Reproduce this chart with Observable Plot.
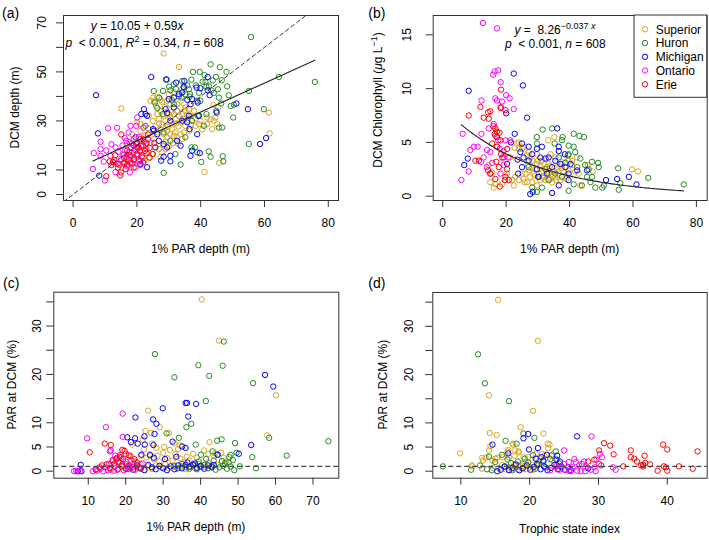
<!DOCTYPE html>
<html><head><meta charset="utf-8">
<script src="https://cdn.jsdelivr.net/npm/d3@7"></script>
<script src="https://cdn.jsdelivr.net/npm/@observablehq/plot@0.6"></script>
<style>
body{margin:0;background:#fff}
#root{position:relative;width:709px;height:540px;overflow:hidden;background:#fff}
.panel{position:absolute}
</style>
</head><body><div id="root"></div>
<script>
const lakes = ["Superior","Huron","Michigan","Ontario","Erie"];
const lakeColors = ["#DAA520","#228B22","#0000FF","#FF00FF","#FF0000"];

// ---------- Panel (a): 1% PAR depth (m) vs DCM depth (m)
const aSuperior = [[28.4,57.5],[33.2,52.0],[15.1,35.1],[61.4,33.4],[61.6,24.9],[45.8,12.9],[41.2,9.2],[27.4,38.6],[27.9,37.8],[25.3,38.2],[26.0,36.1],[29.5,38.2],[30.5,36.8],[26.4,32.8],[26.9,30.7],[27.4,34.1],[28.4,32.1],[29.0,30.1],[30.0,32.8],[30.5,31.4],[31.1,28.7],[31.6,32.8],[32.1,30.7],[32.6,34.1],[33.2,32.1],[33.7,35.5],[34.2,32.8],[34.7,30.7],[35.2,34.1],[36.3,34.8],[36.8,32.1],[37.9,34.1],[38.4,28.0],[39.5,28.7],[39.9,30.1],[42.0,31.4],[43.1,30.7],[44.1,30.1],[44.6,31.4],[45.2,28.7],[43.6,26.7],[42.0,28.7],[27.4,26.7],[28.4,24.6],[29.5,23.3],[30.5,24.6],[31.6,24.0],[32.1,25.3],[32.6,23.3],[33.7,24.6],[34.2,22.6],[34.7,25.3],[35.2,28.0],[29.5,25.9],[26.4,25.3],[25.3,22.6],[26.9,18.5],[27.9,17.2],[29.0,18.5],[24.8,16.5],[23.7,15.2],[22.7,20.6],[24.3,21.3],[24.3,38.2],[25.1,39.5],[26.4,39.8],[30.0,40.9],[33.7,38.2],[32.6,36.8],[31.6,41.8],[34.2,42.9],[35.2,35.5],[21.1,28.7],[20.1,29.4],[18.5,24.6],[16.9,20.6],[15.9,16.5],[16.4,13.1],[17.4,14.5],[19.0,15.2],[22.2,13.8],[27.4,15.2],[21.1,26.0],[23.7,32.1],[28.0,28.5],[29.8,27.5],[31.0,26.8],[33.0,27.8],[34.0,29.5],[36.0,30.5],[37.0,28.3],[36.5,26.0],[30.8,33.6],[28.8,35.6],[27.0,29.0],[25.8,27.8],[32.3,29.0],[35.7,32.6],[38.3,31.0],[29.0,21.5],[31.3,21.0],[33.0,20.6],[28.3,20.0],[30.0,19.6],[24.0,25.0],[22.5,24.0],[23.5,27.0],[25.0,30.0],[40.5,26.5],[45.5,35.5],[44.0,36.5]];
const aHuron = [[55.8,64.2],[75.8,45.9],[64.5,47.9],[55.1,42.2],[59.8,34.8],[55.1,20.6],[50.2,31.4],[49.4,36.1],[50.4,36.6],[48.8,40.5],[48.3,44.1],[48.1,50.0],[46.0,51.9],[46.6,46.6],[43.1,53.1],[39.7,50.0],[37.6,50.0],[41.2,48.7],[41.5,45.9],[42.6,44.1],[43.4,42.5],[44.1,41.4],[45.4,42.9],[45.7,39.5],[46.4,37.1],[46.7,27.3],[45.7,27.3],[46.9,15.6],[47.1,13.5],[43.1,15.4],[42.5,17.6],[40.2,13.3],[38.2,19.2],[37.1,19.2],[33.7,12.2],[28.4,8.8],[38.9,38.2],[39.9,38.2],[37.1,46.8],[35.8,44.5],[36.3,42.9],[34.7,43.6],[34.2,46.3],[31.6,44.9],[29.3,46.7],[30.5,42.5],[28.2,42.2],[25.3,42.2],[25.6,37.5],[26.4,35.2],[31.6,36.8],[34.0,39.5],[35.2,40.9],[36.5,39.9],[30.5,21.9],[32.1,16.5],[28.4,25.3],[35.2,23.3],[21.1,13.8],[22.7,28.0],[28.1,32.8],[39.1,32.1],[37.3,30.1],[41.0,28.0],[41.8,32.8],[44.9,34.1],[38.9,17.2],[38.5,44.5],[39.5,41.5],[40.6,46.0],[41.8,44.0],[43.8,46.5],[44.8,48.0],[36.6,41.0],[33.2,40.0],[32.2,43.0],[30.1,44.0],[27.0,39.5],[31.0,38.5]];
const aMichigan = [[7.2,40.5],[7.8,24.9],[8.2,7.7],[24.5,47.9],[29.2,47.0],[34.9,46.3],[32.3,45.6],[34.7,43.9],[38.7,43.6],[39.9,43.3],[42.2,47.9],[42.8,40.5],[42.2,42.5],[37.3,38.9],[39.1,37.5],[35.8,38.6],[36.8,36.8],[34.2,41.6],[33.2,40.9],[31.6,39.5],[30.0,38.9],[29.0,34.8],[29.5,33.2],[31.6,35.5],[22.2,34.8],[22.7,32.8],[23.2,32.1],[21.4,32.8],[25.1,26.7],[25.3,26.0],[26.4,24.6],[26.9,21.9],[28.4,20.6],[29.5,19.2],[30.5,15.8],[27.6,13.8],[28.4,15.4],[23.2,11.1],[21.1,12.5],[19.6,23.3],[20.1,19.2],[25.8,19.2],[30.5,13.5],[36.8,15.8],[37.3,17.9],[39.7,16.9],[38.9,24.6],[36.5,26.7],[35.8,29.4],[36.3,32.1],[39.5,32.1],[54.8,34.8],[51.2,37.1],[58.6,20.6],[60.5,23.0],[45.0,33.4],[32.6,21.9],[33.7,19.9],[34.2,30.1],[30.5,30.1]];
const aOntario = [[6.2,10.4],[6.5,16.9],[8.6,21.5],[8.6,18.5],[11.0,27.0],[13.8,27.2],[17.4,25.3],[17.7,21.3],[16.7,21.9],[20.1,31.4],[19.8,28.0],[22.1,27.3],[18.0,28.0],[13.3,19.2],[11.7,15.8],[12.7,13.1],[9.6,13.4],[8.6,15.8],[13.3,9.1],[10.0,5.7],[15.0,14.5],[15.8,16.0],[16.3,18.0],[16.8,15.2],[17.2,13.8],[17.6,17.2],[18.0,15.6],[18.2,19.0],[18.6,12.6],[18.9,16.8],[19.2,14.5],[19.5,18.2],[19.8,20.5],[20.2,16.0],[20.5,13.5],[20.9,17.5],[21.3,19.8],[21.8,15.0],[22.2,21.5],[17.0,11.5],[16.0,12.5],[14.5,12.0],[15.5,20.0],[19.0,22.5],[20.7,23.5],[23.0,18.5],[17.8,9.0],[19.6,11.0],[16.2,23.0],[14.2,17.5],[18.4,20.8],[21.0,12.0],[23.5,22.5],[12.0,20.5],[10.4,18.0]];
const aErie = [[10.4,7.4],[15.1,24.5],[16.5,10.4],[13.0,14.0],[14.0,12.5],[12.5,13.3],[16.0,15.0],[18.0,13.0],[19.0,11.0],[20.0,16.5],[21.0,18.0],[22.0,20.0],[23.0,21.0],[21.0,22.5],[23.0,17.0],[24.0,15.0],[22.0,13.0],[17.0,12.2],[15.0,9.0],[14.0,11.0],[12.0,12.0],[11.5,13.5],[17.0,18.0],[19.0,20.0],[20.0,21.0],[22.0,22.5],[18.0,16.0],[16.0,13.0],[25.0,16.5],[21.5,15.5],[24.0,19.0],[19.0,14.0],[14.8,7.8],[13.2,16.0],[23.5,24.5],[25.5,21.0],[22.5,17.8],[20.5,19.0]];
const aFit = [10.05, 0.59];          // y = 10.05 + 0.59x
const aXDomain = [-3.0, 83.2];
const aYDomain = [-2.45, 73.0];
const aXTicks = [0,20,40,60,80];
const aYTicks = [0,10,20,30,40,50,60,70];
const aYLabels = [0,10,30,50,70];

// ---------- Panel (b): 1% PAR depth (m) vs DCM chlorophyll
const bSuperior = [[59.7,2.5],[61.6,2.3],[45.7,2.9],[47.3,2.3],[33.3,5.2],[35.2,5.5],[34.0,3.9],[35.5,3.6],[23.4,4.9],[24.0,4.4],[25.0,4.4],[14.5,2.9],[15.6,2.2],[15.0,1.3],[16.1,0.8],[16.6,1.1],[18.7,1.1],[20.3,2.1],[22.9,1.8],[21.9,1.5],[22.4,1.0],[24.0,1.5],[25.0,2.1],[25.5,1.6],[26.6,1.3],[26.1,2.1],[27.1,2.4],[27.6,1.8],[28.2,1.3],[28.7,2.1],[29.2,2.5],[29.7,3.0],[30.3,2.1],[30.8,1.5],[31.3,2.2],[31.9,1.9],[32.4,1.5],[32.9,2.7],[33.4,2.1],[33.9,1.6],[34.5,1.3],[35.0,2.3],[35.5,1.8],[36.1,2.7],[36.6,2.1],[37.1,1.5],[37.6,2.6],[38.7,1.9],[39.7,2.4],[40.8,2.9],[41.8,2.3],[42.9,2.1],[43.4,1.0],[29.7,1.0],[28.2,3.3],[26.6,3.8],[27.1,4.1],[25.5,4.6],[24.0,5.0],[22.7,4.5],[21.3,3.6],[31.3,3.3],[33.4,3.0],[37.6,3.0],[29.7,3.9],[38.2,3.6],[39.7,3.3],[40.8,3.3],[42.4,3.6],[26.8,2.9],[28.0,2.6],[29.0,1.9],[30.6,2.8],[31.6,1.7],[32.8,2.3],[33.8,2.8],[34.8,1.9],[35.8,1.5],[36.8,2.8],[38.0,2.3],[39.0,1.6],[27.6,3.6],[30.0,3.3],[32.0,3.0],[25.8,1.3]];
const bHuron = [[31.5,6.2],[34.5,6.3],[41.3,5.8],[43.1,5.6],[44.5,5.5],[37.8,5.5],[29.7,5.5],[37.6,5.2],[35.3,4.9],[29.7,4.9],[39.7,4.7],[41.3,4.6],[39.7,3.9],[41.8,4.1],[43.4,3.5],[47.1,3.2],[49.0,3.1],[49.2,2.7],[46.0,2.5],[44.9,2.9],[55.3,2.6],[64.8,1.7],[76.0,1.1],[55.5,0.6],[56.0,1.2],[50.3,0.8],[48.1,0.8],[47.1,1.8],[46.6,1.3],[43.9,1.0],[41.3,1.1],[39.7,0.5],[29.7,0.4],[28.2,0.8],[35.5,2.1],[37.6,1.8],[33.4,1.5],[31.3,0.8],[30.3,1.8],[42.4,2.7],[45.5,1.8],[27.1,2.7],[50.8,1.0],[36.6,3.6],[38.7,3.1],[32.4,2.5],[39.5,3.8]];
const bMichigan = [[8.2,9.8],[22.4,11.4],[25.3,10.3],[26.6,7.3],[20.0,7.7],[22.7,5.8],[6.8,2.9],[7.9,3.5],[21.5,5.0],[20.3,3.0],[23.8,2.1],[25.0,4.9],[24.5,4.1],[25.5,3.6],[27.1,4.6],[28.2,3.9],[29.7,4.4],[30.8,3.6],[32.4,3.5],[36.1,6.3],[33.4,3.6],[35.5,3.3],[37.1,3.0],[38.7,2.7],[39.7,2.1],[34.5,2.7],[32.9,2.1],[29.7,2.5],[27.6,0.2],[28.4,0.4],[34.5,0.3],[36.6,1.0],[39.7,1.5],[42.4,2.4],[45.5,2.4],[51.5,1.5],[55.0,1.6],[58.7,1.8],[61.1,1.1],[31.3,4.6],[36.6,4.6],[27.1,3.3],[23.6,3.4],[30.1,1.8],[25.0,2.7],[36.6,4.2],[38.5,3.9],[40.3,3.0]];
const bOntario = [[12.7,16.1],[17.1,15.6],[15.9,11.3],[16.4,11.6],[17.5,11.7],[18.3,10.6],[16.6,9.1],[17.1,8.9],[18.7,8.8],[18.4,8.3],[22.4,8.1],[20.0,9.4],[21.1,9.1],[12.2,8.9],[6.3,5.8],[5.9,1.5],[8.2,2.3],[8.7,4.3],[9.8,4.6],[11.0,4.6],[12.2,5.8],[12.1,3.2],[12.9,3.6],[14.0,4.3],[14.5,6.3],[16.1,6.7],[16.6,5.6],[17.5,5.2],[18.0,4.4],[19.2,4.2],[19.8,5.2],[18.2,2.1],[18.7,3.6],[20.7,3.6],[21.3,5.2],[15.0,4.1],[13.9,2.7],[15.6,3.1],[15.0,2.1],[19.2,2.9]];
const bErie = [[8.2,7.5],[18.4,9.9],[11.9,8.3],[14.3,7.8],[15.0,7.9],[14.5,7.2],[16.0,6.5],[16.6,6.3],[17.1,6.0],[16.4,5.8],[17.9,5.9],[17.1,5.5],[18.2,5.2],[15.6,4.9],[17.1,4.6],[18.4,3.9],[16.9,3.2],[17.7,2.7],[19.2,3.6],[20.3,2.5],[19.8,1.8],[20.8,1.5],[15.0,2.1],[14.3,2.4],[16.6,1.6],[18.0,0.9],[19.6,1.5],[20.3,4.4],[10.3,3.3],[11.4,3.3],[12.9,7.3],[19.8,8.0],[18.2,8.2]];
const bFit = [8.26, -0.037];        // y = 8.26 e^(-0.037x)
const bXDomain = [-3.0, 83.4];
const bYDomain = [-0.4, 16.8];
const bXTicks = [0,20,40,60,80];
const bYTicks = [0,5,10,15];
const bYLabels = [0,5,10,15];

// ---------- Panel (c): 1% PAR depth (m) vs PAR at DCM (%)
const cSuperior = [[40.3,35.5],[44.9,27.0],[60.1,15.7],[26.0,12.5],[29.1,9.1],[25.3,8.3],[26.8,7.9],[42.4,6.0],[57.8,7.4],[21.8,5.5],[27.1,5.7],[40.9,4.3],[43.7,3.1],[46.1,2.8],[24.9,4.5],[31.5,7.9],[24.6,6.5],[24.0,3.2],[25.5,2.8],[26.5,3.5],[27.5,2.5],[28.5,3.2],[29.0,2.0],[30.0,3.8],[31.0,2.7],[31.8,4.4],[32.5,2.2],[33.3,3.5],[34.0,4.6],[34.6,2.6],[35.5,1.8],[36.3,3.0],[37.0,2.2],[38.0,3.6],[39.0,2.8],[28.0,1.2],[29.5,0.8],[30.5,1.5],[31.5,0.6],[32.8,1.2],[33.8,0.5],[35.0,1.0],[36.0,0.4],[26.0,1.0],[27.0,0.5],[25.0,0.3],[24.0,1.5],[22.5,2.0],[23.0,0.8],[37.5,1.0],[38.5,0.6],[39.5,1.5],[41.0,0.9],[42.0,1.8],[44.5,1.3],[45.5,3.8],[46.8,2.0],[34.5,5.3],[33.0,5.8],[28.2,4.8],[30.3,5.0],[42.1,3.6],[43.9,3.7]];
const cHuron = [[27.8,24.2],[39.4,21.9],[45.9,21.8],[46.2,26.8],[33.0,19.4],[42.3,19.7],[54.0,18.2],[41.4,14.5],[36.2,9.1],[37.5,9.8],[30.9,7.8],[58.3,6.9],[74.1,6.2],[34.2,6.9],[38.7,5.5],[44.4,6.3],[45.6,6.6],[49.2,5.8],[53.8,2.9],[63.0,3.2],[54.8,0.6],[49.6,3.8],[48.0,3.4],[43.2,4.1],[45.7,2.1],[44.6,3.4],[40.1,3.4],[36.0,0.8],[37.0,0.5],[38.0,1.2],[39.0,0.4],[40.0,0.9],[41.0,1.3],[42.0,0.6],[43.0,1.0],[44.0,0.3],[45.0,0.8],[46.0,1.1],[47.0,0.5],[48.0,1.0],[49.0,0.2],[35.0,1.5],[34.0,0.6],[33.0,1.0],[46.5,1.6],[47.5,1.8],[48.6,2.3],[50.5,1.0],[43.5,2.2],[41.5,2.5],[39.5,2.0],[47.7,2.9]];
const cMichigan = [[57.2,19.9],[59.4,17.5],[29.9,13.0],[36.0,14.1],[36.4,14.1],[38.8,13.9],[22.6,11.1],[27.3,10.7],[36.7,11.3],[28.2,9.8],[27.7,7.7],[20.4,7.0],[22.5,6.8],[25.0,7.2],[21.4,6.0],[23.2,5.7],[25.1,5.5],[27.4,5.4],[32.5,6.1],[35.1,5.1],[36.0,4.8],[53.5,5.4],[50.2,3.6],[44.5,3.4],[24.2,3.4],[8.0,1.3],[7.2,0.0],[8.2,0.0],[20.0,0.5],[21.0,1.0],[22.0,0.3],[23.0,1.2],[24.0,0.6],[25.0,0.2],[26.0,1.3],[27.0,0.8],[28.0,0.4],[29.0,1.1],[30.0,0.6],[31.0,0.2],[32.0,1.0],[33.0,0.4],[34.0,1.2],[35.0,0.6],[36.0,1.3],[37.0,0.9],[38.0,1.4],[39.0,0.7],[40.0,1.1],[41.0,0.5],[42.0,1.2],[43.0,0.8],[30.5,2.5],[33.5,3.0],[27.5,2.8],[26.5,3.3],[43.5,1.3],[36.5,1.8],[38.5,1.6]];
const cOntario = [[19.2,11.9],[14.7,9.1],[9.7,6.8],[19.2,7.1],[15.8,4.1],[16.0,4.3],[20.0,3.6],[6.2,0.0],[6.8,0.0],[7.8,0.0],[11.2,0.0],[12.4,0.1],[13.3,0.5],[14.5,0.8],[15.5,1.5],[16.0,0.3],[16.5,2.0],[17.0,1.0],[17.5,2.5],[18.0,0.5],[18.3,1.8],[18.7,2.8],[19.0,1.2],[19.5,0.2],[20.0,2.0],[20.5,1.0],[21.0,0.4],[21.5,2.2],[22.0,1.5],[17.2,3.2],[18.5,3.4],[16.8,0.1],[15.2,0.2],[22.5,0.3],[23.5,0.8],[24.5,1.6],[12.0,0.4],[14.0,0.0]];
const cErie = [[14.4,5.7],[16.0,5.4],[10.4,3.9],[19.1,4.4],[19.7,4.2],[21.3,3.1],[13.7,1.2],[14.9,1.4],[15.8,0.6],[16.5,2.3],[17.0,1.6],[17.6,2.7],[18.0,2.0],[18.4,3.0],[18.9,1.0],[19.3,2.5],[20.2,1.4],[20.8,3.3],[21.8,0.8],[22.3,2.5],[23.0,1.8],[24.0,0.5],[13.0,0.8],[12.0,0.3],[17.8,0.3],[20.5,0.5]];
const cXDomain = [0.8, 76.9];
const cYDomain = [-1.45, 37.0];
const cXTicks = [10,20,30,40,50,60,70];
const cYTicks = [0,5,10,15,20,25,30,35];
const cYLabels = [0,5,10,20,30];
const refPAR = 1;                   // dashed reference level (%)

// ---------- Panel (d): Trophic state index vs PAR at DCM (%)
const dSuperior = [[15.4,35.5],[21.2,27.0],[14.1,15.7],[20.5,12.5],[18.7,9.1],[14.2,7.9],[15.2,7.5],[22.0,7.8],[17.6,5.5],[22.9,5.5],[22.7,4.8],[14.3,5.2],[14.1,4.3],[9.9,3.7],[16.9,4.4],[21.8,3.6],[22.1,3.2],[13.1,2.8],[15.0,2.6],[17.0,2.9],[18.4,3.9],[19.8,2.9],[11.6,1.2],[17.5,5.7],[17.9,4.3],[18.4,4.1],[17.8,3.2],[16.8,4.1],[16.1,2.9],[15.3,2.8],[14.6,2.2],[13.6,2.8],[13.2,2.2],[11.7,1.0],[13.1,0.5],[14.7,0.7],[19.1,2.9],[19.4,1.9],[20.4,2.4],[20.9,3.6],[21.4,2.2],[22.6,5.7],[23.1,3.2],[23.3,2.2],[23.9,1.5],[24.6,0.9],[17.6,0.5],[18.0,1.0],[18.3,0.3],[18.6,1.2],[18.9,0.6],[19.2,1.0],[19.5,0.4],[17.8,1.4],[18.5,0.8],[19.0,1.5],[17.2,0.9],[16.5,0.4],[20.0,0.8],[20.5,0.3],[21.0,1.2],[16.0,1.3],[15.5,0.6]];
const dHuron = [[7.4,1.0],[11.5,0.3],[12.5,24.2],[13.5,18.2],[17.0,14.5],[19.1,7.8],[20.7,6.9],[16.5,6.3],[18.1,5.7],[16.0,3.4],[23.8,4.1],[23.3,3.4],[14.1,3.0],[15.0,1.9],[16.3,0.9],[16.8,2.4],[17.3,1.7],[18.3,2.0],[19.3,2.6],[19.8,1.8],[20.5,3.3],[21.3,1.4],[22.3,0.8],[23.0,2.5],[24.3,1.6],[13.8,0.4],[12.8,1.2],[14.5,0.2],[17.5,0.2],[20.8,0.5],[22.0,2.0]];
const dMichigan = [[14.6,5.5],[19.1,6.8],[19.8,7.7],[26.9,7.2],[19.9,4.5],[21.2,4.8],[16.9,3.7],[15.3,0.0],[15.8,0.3],[16.4,1.0],[17.0,0.2],[17.5,0.7],[18.0,1.4],[18.5,0.2],[19.0,0.6],[19.6,1.2],[20.1,0.3],[20.6,0.9],[21.1,1.5],[21.6,0.4],[22.1,1.0],[22.6,0.2],[23.1,0.7],[23.6,1.3],[24.1,0.4],[24.6,1.0],[25.1,0.3],[25.6,0.8],[26.0,0.2],[28.5,0.6],[23.9,2.4],[24.4,2.0],[22.5,3.4],[20.9,2.6],[21.7,2.9],[24.0,3.2],[22.0,2.2]];
const dOntario = [[29.0,7.2],[25.0,4.3],[30.2,3.6],[30.5,2.9],[30.1,1.5],[29.4,0.8],[29.6,0.0],[28.9,0.3],[32.5,0.3],[32.1,0.8],[28.1,0.8],[26.9,0.1],[26.2,0.8],[25.7,1.9],[26.7,1.9],[27.2,1.2],[27.6,1.5],[25.9,0.0],[25.2,0.3],[24.6,0.8],[25.0,1.5],[25.7,0.1],[27.4,0.0],[28.1,0.0],[23.8,1.0],[24.3,0.3],[26.5,2.5],[27.9,2.0],[29.7,2.4],[23.0,0.2]];
const dErie = [[28.5,2.0],[29.4,2.4],[30.1,4.3],[30.8,5.8],[31.7,5.3],[32.2,3.5],[30.4,1.2],[33.6,1.0],[34.7,4.3],[34.7,2.9],[35.2,2.6],[35.6,2.0],[36.2,1.2],[36.5,1.3],[36.7,3.2],[36.5,1.0],[36.8,1.7],[37.5,1.4],[38.6,0.1],[39.4,5.5],[40.0,4.5],[39.5,1.0],[39.8,0.8],[40.0,0.1],[41.7,1.0],[43.7,0.5],[44.4,4.1]];
const dXDomain = [5.93, 45.8];
const dYDomain = [-1.45, 37.0];
const dXTicks = [10,20,30,40];
const dYTicks = [0,5,10,15,20,25,30,35];
const dYLabels = [0,5,10,20,30];

// ---------- helpers
const FONT = '"Liberation Sans", Arial, Helvetica, sans-serif';
const root = document.getElementById("root");
const rowsOf = sets => sets.flatMap((s, i) => s.map(([x, y]) => ({x, y, lake: lakes[i]})));

function makePanel(c) {
  const rows = rowsOf(c.sets);
  const svg = Plot.plot({
    width: c.width, height: c.height,
    marginTop: c.m[0], marginRight: c.m[1], marginBottom: c.m[2], marginLeft: c.m[3],
    x: {domain: c.xDomain},
    y: {domain: c.yDomain},
    color: {domain: lakes, range: lakeColors},
    style: {fontFamily: FONT, fontSize: "12px", color: "#000", background: "transparent", overflow: "visible"},
    marks: [
      ...(c.under ? c.under(rows) : []),
      Plot.dot(rows, {x: "x", y: "y", stroke: "lake", r: 2.7, strokeWidth: 1, fill: "none"}),
      ...(c.over ? c.over(rows) : []),
      Plot.frame({stroke: "#333", strokeWidth: 1}),
      Plot.axisX({ticks: c.xTicks, tickSize: 7, tickPadding: 11, tickFormat: d => String(d), label: null, stroke: "#333", fontSize: 12}),
      Plot.axisY({ticks: c.yTicks, tickSize: 7, tickFormat: () => "", label: null, stroke: "#333"}),
      Plot.text(c.yLabels, {y: d => d, text: d => String(d), frameAnchor: "left", dx: c.yLabelDx, rotate: -90,
        textAnchor: "middle", lineAnchor: "middle", fontSize: 12, fill: "#000"})
    ]
  });
  const div = document.createElement("div");
  div.className = "panel";
  div.style.left = c.left + "px";
  div.style.top = c.top + "px";
  div.appendChild(svg);
  root.appendChild(div);
  return svg;
}

function rich(svg, x, y, parts, {anchor = "middle", rotate = 0, size = 12} = {}) {
  const t = d3.select(svg).append("text")
    .attr("transform", `translate(${x},${y}) rotate(${rotate})`)
    .attr("text-anchor", anchor)
    .attr("font-size", size)
    .attr("font-family", FONT)
    .attr("fill", "#000")
    .style("white-space", "pre");
  for (const p of parts) {
    const [s, kind] = typeof p === "string" ? [p, ""] : p;
    const ts = t.append("tspan").text(s);
    if (kind.includes("i")) ts.attr("font-style", "italic");
    if (kind.includes("^")) ts.attr("baseline-shift", "super").attr("font-size", size * 0.75);
  }
  return t;
}

// ---------- (a)
const svgA = makePanel({
  left: 0, top: 0, width: 354, height: 270, m: [15, 16, 70, 63],
  sets: [aSuperior, aHuron, aMichigan, aOntario, aErie],
  xDomain: aXDomain, yDomain: aYDomain, xTicks: aXTicks, yTicks: aYTicks, yLabels: aYLabels, yLabelDx: -21,
  over: rows => {
    const ext = d3.extent(rows, d => d.x);
    return [
      Plot.line(aXDomain, {x: d => d, y: d => d, stroke: "#333", strokeWidth: 1, strokeDasharray: "4,3", clip: true}),
      Plot.line(ext, {x: d => d, y: d => aFit[0] + aFit[1] * d, stroke: "#222", strokeWidth: 1.1})
    ];
  }
});
rich(svgA, 2, 18, ["(a)"], {anchor: "start", size: 14});
rich(svgA, 137, 30, [["y", "i"], " = 10.05 + 0.59", ["x", "i"]]);
rich(svgA, 144.5, 47, [["p", "i"], "  < 0.001, ", ["R", "i"], ["2", "^"], " = 0.34, ", ["n", "i"], " = 608"]);
rich(svgA, 200.5, 253, ["1% PAR depth (m)"]);
rich(svgA, 18.5, 107.5, ["DCM depth (m)"], {rotate: -90});

// ---------- (b)
const svgB = makePanel({
  left: 355, top: 0, width: 354, height: 270, m: [15, 2.3, 70, 77.7],
  sets: [bSuperior, bHuron, bMichigan, bOntario, bErie],
  xDomain: bXDomain, yDomain: bYDomain, xTicks: bXTicks, yTicks: bYTicks, yLabels: bYLabels, yLabelDx: -26,
  over: rows => {
    const ext = d3.extent(rows, d => d.x);
    const xs = d3.range(ext[0], ext[1] + 0.001, 0.5);
    return [Plot.line(xs, {x: d => d, y: d => bFit[0] * Math.exp(bFit[1] * d), stroke: "#222", strokeWidth: 1.1})];
  }
});
rich(svgB, 13.3, 18, ["(b)"], {anchor: "start", size: 14});
rich(svgB, 200, 34, [["y", "i"], " =  8.26", ["\u22120.037", "^"], [" x", "^i"]]);
rich(svgB, 200.3, 47.5, [["p", "i"], "  < 0.001, ", ["n", "i"], " = 608"]);
rich(svgB, 214.7, 253, ["1% PAR depth (m)"]);
rich(svgB, 27, 100, ["DCM Chlorophyll (", ["\u03BC", "i"], "g L", ["\u22121", "^"], ")"], {rotate: -90});
{
  const g = d3.select(svgB).append("g").attr("text-anchor", "start");
  g.append("rect").attr("x", 279).attr("y", 15).attr("width", 72.7).attr("height", 82.3)
    .attr("fill", "#fff").attr("stroke", "#333");
  lakes.forEach((name, i) => {
    const cy = 29.3 + 13.75 * i;
    g.append("circle").attr("cx", 290).attr("cy", cy).attr("r", 2.7)
      .attr("fill", "none").attr("stroke", lakeColors[i]).attr("stroke-width", 1);
    g.append("text").attr("x", 300.7).attr("y", cy).attr("dy", "0.35em").attr("text-anchor", "start")
      .attr("font-size", 12).attr("font-family", FONT).attr("fill", "#000").text(name);
  });
}

// ---------- (c)
const svgC = makePanel({
  left: 0, top: 270, width: 354, height: 270, m: [21.7, 15.7, 62.3, 53.3],
  sets: [cSuperior, cHuron, cMichigan, cOntario, cErie],
  xDomain: cXDomain, yDomain: cYDomain, xTicks: cXTicks, yTicks: cYTicks, yLabels: cYLabels, yLabelDx: -17,
  over: () => [Plot.ruleY([refPAR], {stroke: "#444", strokeWidth: 1.2, strokeDasharray: "5,3"})]
});
rich(svgC, 3, 18, ["(c)"], {anchor: "start", size: 14});
rich(svgC, 195.8, 261, ["1% PAR depth (m)"]);
rich(svgC, 15.5, 114.7, ["PAR at DCM (%)"], {rotate: -90});

// ---------- (d)
const svgD = makePanel({
  left: 355, top: 270, width: 354, height: 270, m: [22, 2.3, 62.3, 77.3],
  sets: [dSuperior, dHuron, dMichigan, dOntario, dErie],
  xDomain: dXDomain, yDomain: dYDomain, xTicks: dXTicks, yTicks: dYTicks, yLabels: dYLabels, yLabelDx: -24,
  over: () => [Plot.ruleY([refPAR], {stroke: "#444", strokeWidth: 1.2, strokeDasharray: "5,3"})]
});
rich(svgD, 13.3, 18, ["(d)"], {anchor: "start", size: 14});
rich(svgD, 214.5, 263, ["Trophic state index"]);
rich(svgD, 32, 114.7, ["PAR at DCM (%)"], {rotate: -90});
</script>
</body></html>
